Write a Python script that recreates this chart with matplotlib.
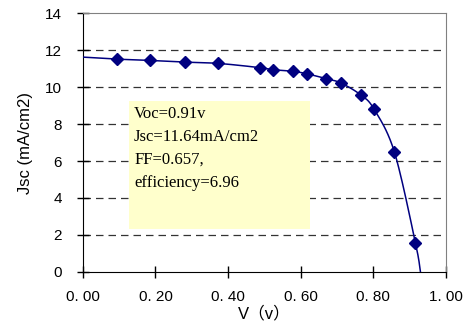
import numpy as np
import matplotlib.pyplot as plt

# measured I-V points (V in volts, Jsc in mA/cm2)
volts = [0.095, 0.186, 0.281, 0.373, 0.488, 0.523, 0.579, 0.617, 0.671, 0.711, 0.766, 0.802, 0.858, 0.916]
jsc = [11.51, 11.44, 11.35, 11.28, 11.05, 10.94, 10.85, 10.72, 10.45, 10.22, 9.57, 8.81, 6.50, 1.59]

# curve end points (short circuit and open circuit ends of the trace)
curve_v = [0.0] + volts + [0.93]
curve_j = [11.62] + jsc + [0.0]

x_ticks = [0.0, 0.2, 0.4, 0.6, 0.8, 1.0]
x_labels = ['0. 00', '0. 20', '0. 40', '0. 60', '0. 80', '1. 00']
y_ticks = [0, 2, 4, 6, 8, 10, 12, 14]

info = 'Voc=0.91v\nJsc=11.64mA/cm2\nFF=0.657,\nefficiency=6.96'


# Excel-style smoothed line (Catmull-Rom through the points)
def smooth(xs, ys, n=20):
    p = np.column_stack([xs, ys])
    p = np.vstack([p[0], p, p[-1]])
    out = []
    t = np.linspace(0, 1, n, endpoint=False)[:, None]
    for i in range(1, len(p) - 2):
        p0, p1, p2, p3 = p[i - 1], p[i], p[i + 1], p[i + 2]
        seg = 0.5 * (2 * p1 + (-p0 + p2) * t + (2 * p0 - 5 * p1 + 4 * p2 - p3) * t ** 2
                     + (-p0 + 3 * p1 - 3 * p2 + p3) * t ** 3)
        out.append(seg)
    out.append(p[-2][None, :])
    out = np.vstack(out)
    return out[:, 0], out[:, 1]


plt.rcParams['font.family'] = ['Liberation Sans', 'Noto Sans CJK SC']

fig = plt.figure(figsize=(4.63, 3.28), dpi=100)
ax = fig.add_axes([0.179, 0.171, 0.784, 0.789])

sx, sy = smooth(curve_v, curve_j)
ax.plot(sx, sy, color='#000080', lw=1.1, zorder=3)
ax.plot(volts, jsc, linestyle='none', marker='D', color='#000080', markersize=6, zorder=4)

ax.set_xlim(0, 1.0)
ax.set_ylim(0, 14)
ax.set_xticks(x_ticks)
ax.set_xticklabels(x_labels)
ax.set_yticks(y_ticks)

for y in y_ticks[1:-1]:
    ax.axhline(y, color='#333333', lw=0.9, dashes=(6, 4), zorder=1)

ax.tick_params(direction='inout', length=8, width=1, labelsize=11)
ax.tick_params(axis='y', pad=11)
ax.tick_params(axis='x', pad=9)
for side in ['left', 'bottom']:
    ax.spines[side].set_color('black')
for side in ['top', 'right']:
    ax.spines[side].set_color('#808080')

ax.set_xlabel('V（v）', fontsize=12, labelpad=1)
ax.set_ylabel('Jsc (mA/cm2)', fontsize=12, labelpad=9)

# annotation box
ax.add_patch(plt.Rectangle((0.127, 2.32), 0.498, 6.92, fc='#FFFFCC', ec='none', zorder=2))
ax.text(0.141, 9.0, info, family='Liberation Serif', fontsize=12, linespacing=1.6,
        va='top', ha='left', zorder=5)

fig.savefig('out.png', dpi=100)
